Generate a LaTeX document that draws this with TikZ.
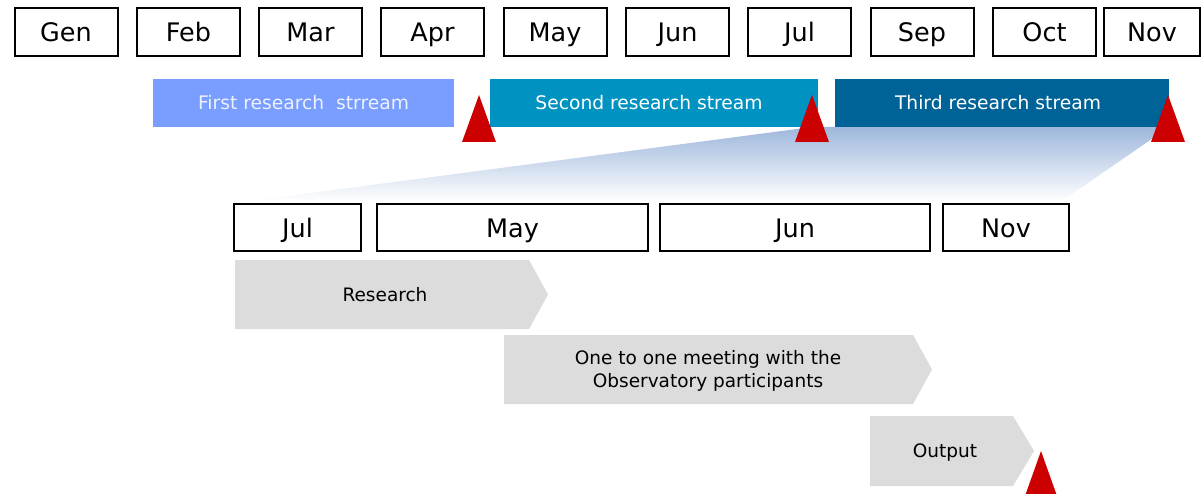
\documentclass[tikz,border=0pt]{standalone}
\usepackage{fontspec}
\setmainfont{DejaVu Sans}
\definecolor{barA}{RGB}{122,158,255}
\definecolor{barAtext}{RGB}{236,241,255}
\definecolor{barB}{RGB}{0,146,192}
\definecolor{barC}{RGB}{0,99,151}
\definecolor{mred}{RGB}{204,0,0}
\definecolor{chev}{RGB}{220,220,220}
\definecolor{gradtop}{RGB}{158,183,220}
\tikzset{
  monthbox/.style={draw=black, line width=2pt, fill=white, inner sep=0pt, outer sep=0pt,
    minimum height=48pt, minimum width=103pt, font=\fontsize{25.5}{30}\selectfont,
    text height=18.6pt, text depth=0pt},
  monthboxB/.style={monthbox, minimum height=47pt},
  streambar/.style={inner sep=0pt, outer sep=0pt, minimum height=48pt, text=white,
    font=\fontsize{18.7}{22}\selectfont, text height=13.6pt, text depth=0pt},
  milestone/.style={fill=mred},
  chevron/.style={fill=chev},
  chevtext/.style={inner sep=0pt, align=center, font=\fontsize{18.5}{23}\selectfont},
  chevline/.style={chevtext, text height=13.5pt, text depth=0pt}
}
\begin{document}
\begin{tikzpicture}[x=1pt,y=-1pt]
\useasboundingbox (0,0) rectangle (1201,494);
% gradient zoom funnel
\shade[top color=gradtop, bottom color=white] (812,127) -- (1169,127) -- (1062,201) -- (250,201) -- cycle;
% top month row
\node[monthbox] (gen) at (66,32) {Gen};
\node[monthbox] (feb) at (188.5,32) {Feb};
\node[monthbox] (mar) at (310.5,32) {Mar};
\node[monthbox] (apr) at (432.5,32) {Apr};
\node[monthbox] (may) at (555,32) {May};
\node[monthbox] (jun) at (677.5,32) {Jun};
\node[monthbox] (jul) at (799.5,32) {Jul};
\node[monthbox] (sep) at (922,32) {Sep};
\node[monthbox] (oct) at (1044.5,32) {Oct};
\node[monthbox, minimum width=96pt] (nov) at (1152,32) {Nov};
% research streams
\node[streambar, fill=barA, text=barAtext, minimum width=301pt] (s1) at (303.5,103) {First research~ strream};
\node[streambar, fill=barB, minimum width=328pt] (s2) at (654,103) {\hspace*{-10pt}Second research stream};
\node[streambar, fill=barC, minimum width=334pt] (s3) at (1002,103) {\hspace*{-8pt}Third research stream};
% milestones
\fill[milestone] (462,142) -- (479,95) -- (496,142) -- cycle;
\fill[milestone] (795,142) -- (812,95) -- (829,142) -- cycle;
\fill[milestone] (1151,142) -- (1168,95) -- (1185,142) -- cycle;
\fill[milestone] (1025,496) -- (1041,451) -- (1057,496) -- cycle;
% second month row
\node[monthboxB, minimum width=127pt] (jul2) at (297.5,228) {Jul};
\node[monthboxB, minimum width=271pt] (may2) at (512.5,228) {May};
\node[monthboxB, minimum width=270pt] (jun2) at (795,228) {Jun};
\node[monthboxB, minimum width=126pt] (nov2) at (1006,228) {Nov};
% activities
\fill[chevron] (235,260) -- (529,260) -- (548,294.5) -- (529,329) -- (235,329) -- cycle;
\node[chevline] (research) at (385,294.5) {Research};
\fill[chevron] (504,335) -- (913,335) -- (932,369.5) -- (913,404) -- (504,404) -- cycle;
\node[chevtext] (meeting) at (708,371) {One to one meeting with the\\Observatory participants};
\fill[chevron] (870,416) -- (1013,416) -- (1034,451) -- (1013,486) -- (870,486) -- cycle;
\node[chevline] (output) at (945,451) {Output};
\end{tikzpicture}
\end{document}
